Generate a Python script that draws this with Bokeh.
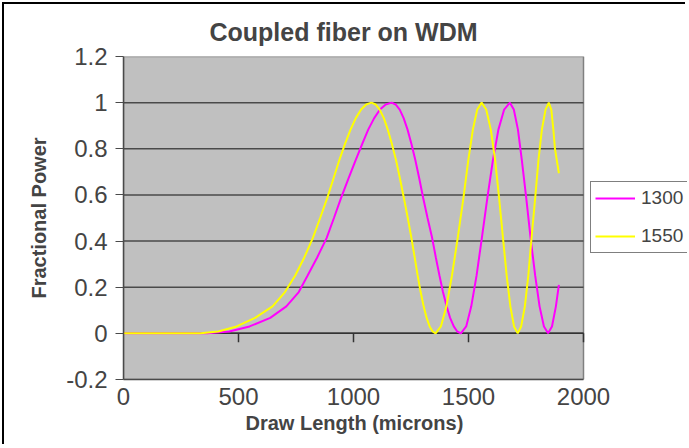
from math import pi

from bokeh.plotting import figure
from bokeh.models import Range1d, FixedTicker, Legend, LegendItem, Title
from bokeh.embed import file_html
from bokeh.resources import INLINE

# Coupled power vs. draw length for the two WDM wavelengths
draw_len_1300 = [0, 365, 460, 548, 638, 708, 762, 800, 842, 883, 915, 946, 978,
                 1009, 1038, 1064, 1090, 1115, 1140, 1166,
                 1183, 1201, 1218, 1235, 1252, 1269, 1286, 1303, 1322, 1342,
                 1358, 1374, 1389, 1405, 1420, 1436, 1451, 1467,
                 1490, 1512, 1535, 1558, 1582, 1606, 1630, 1655, 1680,
                 1697, 1715, 1732, 1751, 1770, 1790, 1809, 1828, 1846,
                 1863, 1880, 1893]
power_1300 = [0.0, 0.0, 0.008, 0.030, 0.067, 0.117, 0.179, 0.25, 0.329, 0.413, 0.5, 0.587, 0.671,
              0.75, 0.821, 0.883, 0.933, 0.970, 0.992, 1.0,
              0.992, 0.970, 0.933, 0.883, 0.821, 0.75, 0.671, 0.587, 0.5, 0.413,
              0.329, 0.25, 0.179, 0.117, 0.067, 0.030, 0.008, 0.0,
              0.030, 0.117, 0.25, 0.413, 0.587, 0.75, 0.883, 0.970, 1.0,
              0.970, 0.883, 0.75, 0.587, 0.413, 0.25, 0.117, 0.030, 0.0,
              0.030, 0.117, 0.21]

draw_len_1550 = [0, 335, 412, 492, 572, 648, 702, 746, 786, 823, 855, 886, 913,
                 938, 963, 987, 1010, 1033, 1055, 1078,
                 1096, 1114, 1132, 1149, 1167, 1185, 1202, 1219, 1236, 1252,
                 1266, 1279, 1292, 1305, 1318, 1331, 1344, 1357,
                 1380, 1404, 1428, 1453, 1478, 1499, 1519, 1538, 1557,
                 1577, 1597, 1616, 1633, 1650, 1666, 1682, 1698, 1714,
                 1729, 1745, 1760, 1774, 1790, 1804, 1819, 1835, 1849,
                 1860, 1869, 1876, 1893]
power_1550 = [0.0, 0.0, 0.008, 0.030, 0.067, 0.117, 0.179, 0.25, 0.329, 0.413, 0.5, 0.587, 0.671,
              0.75, 0.821, 0.883, 0.933, 0.970, 0.992, 1.0,
              0.992, 0.970, 0.933, 0.883, 0.821, 0.75, 0.671, 0.587, 0.5, 0.413,
              0.329, 0.25, 0.179, 0.117, 0.067, 0.030, 0.008, 0.0,
              0.030, 0.117, 0.25, 0.413, 0.587, 0.75, 0.883, 0.970, 1.0,
              0.970, 0.883, 0.75, 0.587, 0.413, 0.25, 0.117, 0.030, 0.0,
              0.030, 0.117, 0.25, 0.413, 0.587, 0.75, 0.883, 0.970, 1.0,
              0.970, 0.883, 0.80, 0.694]

series_names = ["1300", "1550"]
x_ticks = [0, 500, 1000, 1500, 2000]
y_ticks = [-0.2, 0, 0.2, 0.4, 0.6, 0.8, 1, 1.2]
y_tick_labels = {-0.2: "-0.2", 0: "0", 0.2: "0.2", 0.4: "0.4", 0.6: "0.6",
                 0.8: "0.8", 1: "1", 1.2: "1.2"}

FONT = "Liberation Sans"
GRID = "#4a4a4a"

# The frame runs to the right edge of the canvas so the legend can sit
# beside the grey plot area; the grey area itself covers x_ticks[0]..x_ticks[-1].
WIDTH, HEIGHT = 683, 442
BORDER_LEFT = 119
PLOT_PX = 460
FRAME_PX = WIDTH - BORDER_LEFT
x_end = x_ticks[0] + (x_ticks[-1] - x_ticks[0]) * FRAME_PX / PLOT_PX

p = figure(width=WIDTH, height=HEIGHT, output_backend="svg", toolbar_location=None,
           x_range=Range1d(x_ticks[0], x_end),
           y_range=Range1d(y_ticks[0], y_ticks[-1]),
           min_border_left=BORDER_LEFT, min_border_right=0,
           min_border_top=52, min_border_bottom=67,
           background_fill_color="white", border_fill_color="white",
           outline_line_color=None)

# black chart border along the top and left edges only
p.styles = {"margin-left": "2px", "margin-top": "2px",
            "border-left": "2px solid black", "border-top": "2px solid black"}

# title
p.title.text = "Coupled fiber on WDM"
p.title.text_font = FONT
p.title.text_font_size = "25px"
p.title.text_font_style = "bold"
p.title.align = "left"
p.title.offset = 86
p.title.standoff = 22

# x axis: labels along the bottom edge of the plot area
xa = p.xaxis[0]
xa.ticker = FixedTicker(ticks=x_ticks)
xa.bounds = (x_ticks[0], x_ticks[-1])
xa.major_label_text_font = FONT
xa.major_label_text_font_size = "24px"
xa.major_label_standoff = 8
xa.major_tick_out = 0
xa.major_tick_in = 0
xa.minor_tick_line_color = None
xa.axis_line_color = GRID
xa.axis_line_width = 1.5

# x axis title, centred under the grey plot area
p.add_layout(Title(text="Draw Length (microns)", text_font=FONT,
                   text_font_size="20px", text_font_style="bold",
                   align="left", offset=122, standoff=4), "below")

# y axis
ya = p.yaxis[0]
ya.ticker = FixedTicker(ticks=y_ticks)
ya.major_label_overrides = y_tick_labels
ya.axis_label = "Fractional Power"
ya.axis_label_text_font = FONT
ya.axis_label_text_font_size = "20px"
ya.axis_label_text_font_style = "bold"
ya.axis_label_standoff = 13
ya.major_label_text_font = FONT
ya.major_label_text_font_size = "24px"
ya.major_label_standoff = 8
ya.major_tick_out = 8
ya.major_tick_in = 0
ya.major_tick_line_color = GRID
ya.minor_tick_line_color = None
ya.axis_line_color = GRID
ya.axis_line_width = 1.5

p.grid.grid_line_color = None

# grey plot area with its border
p.quad(left=[x_ticks[0]], right=[x_ticks[-1]], bottom=[y_ticks[0]], top=[y_ticks[-1]],
       fill_color="#c0c0c0", line_color="#808080", line_width=1.5)

# horizontal gridlines across the plot area
grid_levels = y_ticks[1:-1]
p.segment(x0=[x_ticks[0]] * len(grid_levels), x1=[x_ticks[-1]] * len(grid_levels),
          y0=grid_levels, y1=grid_levels, line_color=GRID, line_width=1.5)

# horizontal axis crossing at zero, with its tick marks hanging below
p.segment(x0=[x_ticks[0]], x1=[x_ticks[-1]], y0=[0], y1=[0],
          line_color="#333333", line_width=1.5)
p.ray(x=x_ticks[1:], y=[0] * (len(x_ticks) - 1), length=9,
      length_units="screen", angle=-pi / 2, line_color="#333333",
      line_width=1.5)

# data lines
r1300 = p.line(draw_len_1300, power_1300, line_color="#ff00ff", line_width=2)
r1550 = p.line(draw_len_1550, power_1550, line_color="#ffff00", line_width=2)

legend = Legend(items=[LegendItem(label=series_names[0], renderers=[r1300]),
                       LegendItem(label=series_names[1], renderers=[r1550])],
                location=(467, 126), orientation="vertical",
                label_text_font=FONT, label_text_font_size="19px",
                glyph_width=40, glyph_height=20, label_standoff=6,
                label_width=70, label_height=24, spacing=14, padding=4, margin=0,
                border_line_color="black", border_line_width=1,
                background_fill_color="white", background_fill_alpha=1)
p.add_layout(legend, "center")

open("out.html", "w").write(file_html(p, INLINE))
